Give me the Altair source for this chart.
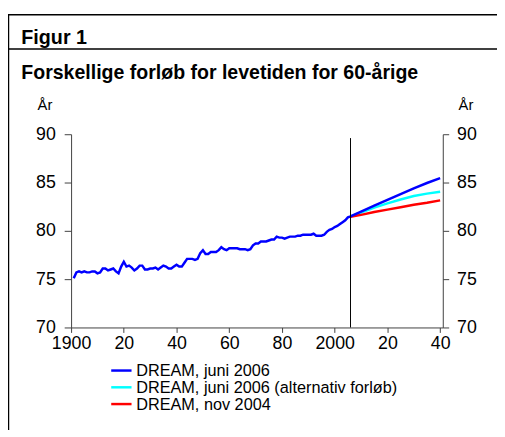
import altair as alt
import pandas as pd

FONT = "Liberation Sans"

hist_years = list(range(1901, 2006))
hist_values = [
    75.1, 75.7, 75.8, 75.7, 75.8, 75.7, 75.7, 75.8, 75.8, 75.6,   # 1901-1910
    75.7, 76.1, 76.1, 75.9, 76.0, 76.1, 75.8, 75.6, 76.3, 76.8,   # 1911-1920
    76.3, 76.4, 76.2, 75.9, 76.1, 76.4, 76.4, 76.0, 76.0, 76.1,   # 1921-1930
    76.1, 76.2, 76.0, 76.2, 76.4, 76.3, 76.1, 76.1, 76.3, 76.5,   # 1931-1940
    76.3, 76.3, 76.7, 77.1, 77.1, 77.1, 77.0, 77.1, 77.7, 78.0,   # 1941-1950
    77.6, 77.6, 77.8, 77.8, 77.8, 78.0, 78.3, 78.1, 78.0, 78.2,   # 1951-1960
    78.2, 78.2, 78.2, 78.1, 78.1, 78.1, 78.0, 78.1, 78.5, 78.7,   # 1961-1970
    78.7, 78.9, 78.9, 78.9, 79.0, 79.1, 79.1, 79.4, 79.3, 79.3,   # 1971-1980
    79.2, 79.3, 79.4, 79.4, 79.4, 79.5, 79.5, 79.6, 79.6, 79.6,   # 1981-1990
    79.6, 79.7, 79.5, 79.5, 79.5, 79.6, 79.9, 80.1, 80.2, 80.4,   # 1991-2000
    80.5, 80.7, 80.9, 81.1, 81.4,                                 # 2001-2005
]

fc_years = [2006, 2010, 2015, 2020, 2025, 2030, 2035, 2040]
blue_fc = [81.5, 82.0, 82.6, 83.2, 83.8, 84.4, 84.95, 85.45]
cyan_fc = [81.5, 81.9, 82.4, 82.85, 83.25, 83.6, 83.85, 84.05]
red_fc = [81.45, 81.65, 81.95, 82.2, 82.45, 82.7, 82.9, 83.15]

series_names = [
    "DREAM, juni 2006",
    "DREAM, juni 2006 (alternativ forløb)",
    "DREAM, nov 2004",
]
series_colors = ["#0000FF", "#00FFFF", "#FF0000"]

x_ticks = [1900, 1920, 1940, 1960, 1980, 2000, 2020, 2040]
x_labels = ["1900", "20", "40", "60", "80", "2000", "20", "40"]
y_ticks = [70, 75, 80, 85, 90]
forecast_start = 2006
rule_top = 89.6

fig_label = "Figur 1"
title_text = "Forskellige forløb for levetiden for 60-årige"
unit_text = "År"

# ---------- data tables ----------
rows = []
for y, v in zip(hist_years, hist_values):
    rows.append({"series": series_names[0], "year": y, "value": v})
for y, v in zip(fc_years, blue_fc):
    rows.append({"series": series_names[0], "year": y, "value": v})
for y, v in zip(fc_years, cyan_fc):
    rows.append({"series": series_names[1], "year": y, "value": v})
for y, v in zip(fc_years, red_fc):
    rows.append({"series": series_names[2], "year": y, "value": v})
df = pd.DataFrame(rows)

label_expr = " : ".join(
    f"datum.value == {v} ? '{l}'" for v, l in zip(x_ticks, x_labels)
) + " : ''"

AX_COLOR = "#404040"
TICK_FS = 18

x_enc = alt.X(
    "year:Q",
    scale=alt.Scale(domain=[1900, 2041], nice=False, zero=False),
    axis=alt.Axis(
        values=x_ticks, labelExpr=label_expr, title=None, grid=False,
        tickSize=5, labelPadding=2, labelFontSize=TICK_FS, labelFont=FONT,
        labelColor="black", domainColor=AX_COLOR, tickColor=AX_COLOR,
        labelFlush=False, labelOverlap=False,
    ),
)

y_scale = alt.Scale(domain=[70, 90], nice=False, zero=False)
left_axis = alt.Axis(
    orient="left", values=y_ticks, title=None, grid=False, tickSize=7,
    labelPadding=9, labelFontSize=TICK_FS, labelFont=FONT, labelColor="black",
    domainColor=AX_COLOR, tickColor=AX_COLOR, labelFlush=False,
)
right_axis = alt.Axis(
    orient="right", values=y_ticks, title=None, grid=False, tickSize=6,
    labelPadding=8, labelFontSize=TICK_FS, labelFont=FONT, labelColor="black",
    domainColor=AX_COLOR, tickColor=AX_COLOR, labelFlush=False,
)


def line_layer(idx, axis):
    return (
        alt.Chart(df)
        .transform_filter(alt.datum.series == series_names[idx])
        .mark_line(strokeWidth=2.5, color=series_colors[idx])
        .encode(x=x_enc, y=alt.Y("value:Q", scale=y_scale, axis=axis), order="year:Q")
    )


cyan_line = line_layer(1, left_axis)
red_line = line_layer(2, None)
blue_line = line_layer(0, None)

rule_df = pd.DataFrame({"year": [forecast_start], "top": [rule_top], "bottom": [70]})
vrule = (
    alt.Chart(rule_df)
    .mark_rule(color="black", strokeWidth=1)
    .encode(
        x=alt.X("year:Q", scale=alt.Scale(domain=[1900, 2041], nice=False, zero=False)),
        y=alt.Y("top:Q", scale=y_scale, axis=right_axis),
        y2="bottom:Q",
    )
)

one = pd.DataFrame({"k": [0]})


def text_layer(txt, x, y, size, bold=False):
    return (
        alt.Chart(one)
        .mark_text(
            font=FONT, fontSize=size, fontWeight="bold" if bold else "normal",
            align="left", baseline="alphabetic", color="black",
        )
        .encode(x=alt.value(x), y=alt.value(y), text=alt.value(txt))
    )


def hline(y, x1, x2, w=1.5):
    return (
        alt.Chart(one)
        .mark_rule(color="black", strokeWidth=w)
        .encode(x=alt.value(x1), x2=alt.value(x2), y=alt.value(y))
    )


def vline(x, y1, y2, w=1.5):
    return (
        alt.Chart(one)
        .mark_rule(color="black", strokeWidth=w)
        .encode(x=alt.value(x), y=alt.value(y1), y2=alt.value(y2))
    )


frame = [
    vline(-63.5, -121.5, 300),
    hline(-121.3, -64, 432),
    hline(-86.5, -64, 432),
]

texts = [
    text_layer(fig_label, -50.5, -91.5, 20, True),
    text_layer(title_text, -50.5, -56.5, 19.8, True),
    text_layer(unit_text, -34, -24.7, 15),
    text_layer(unit_text, 393, -24.7, 15),
]

legend_layers = []
leg_y = [239.7, 256.7, 273.7]
for i, name in enumerate(series_names):
    legend_layers.append(
        alt.Chart(one)
        .mark_rule(color=series_colors[i], strokeWidth=2.5)
        .encode(x=alt.value(40.7), x2=alt.value(61.3), y=alt.value(leg_y[i]))
    )
    legend_layers.append(text_layer(name, 66, leg_y[i] + 6, 16.5))

chart = (
    alt.layer(cyan_line, red_line, blue_line, vrule, *frame, *texts, *legend_layers)
    .resolve_axis(y="independent")
    .properties(
        width=377,
        height=196,
        autosize=alt.AutoSizeParams(type="none"),
        padding={"left": 64, "top": 125, "right": 55, "bottom": 103},
        background="white",
    )
    .configure_view(stroke=None)
)

chart.save("out.html", embed_options={"renderer": "svg", "actions": False})
